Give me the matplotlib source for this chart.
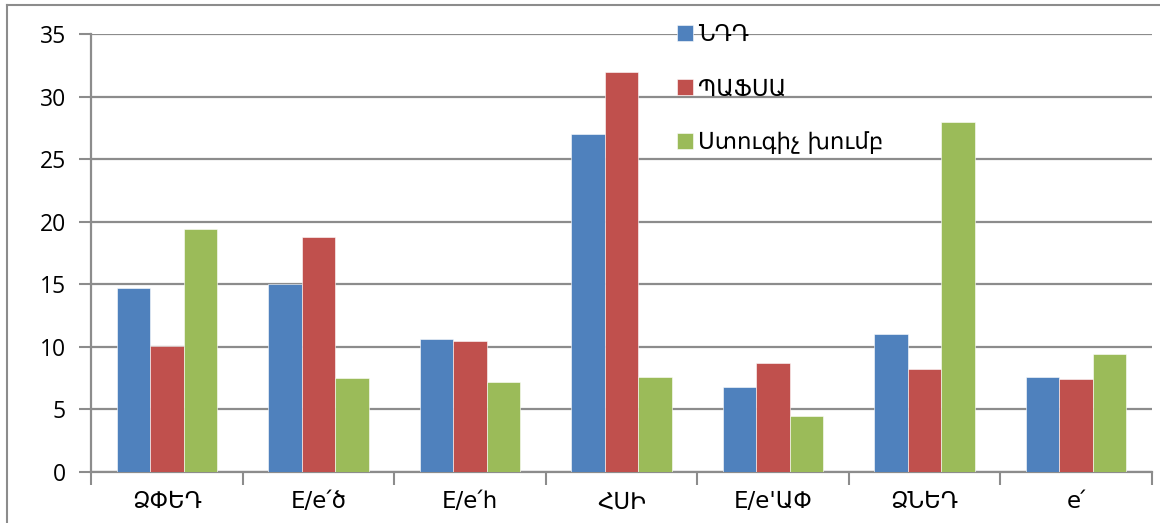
import numpy as np
import matplotlib.pyplot as plt
from matplotlib.lines import Line2D

# Chart data
categories = ["ՁՓԵԴ", "E/e՛ծ", "E/e՛հ", "ՀՍԻ", "E/e'ԱՓ", "ՁՆԵԴ", "e՛"]
series_names = ["ՆԴԴ", "ՊԱՖՍԱ", "Ստուգիչ խումբ"]
ndd = [14.7, 15.0, 10.6, 27.0, 6.8, 11.0, 7.6]
pafsa = [10.1, 18.8, 10.5, 32.0, 8.7, 8.2, 7.4]
control = [19.4, 7.5, 7.2, 7.6, 4.5, 28.0, 9.4]
yticks = [0, 5, 10, 15, 20, 25, 30, 35]

colors = ["#4F81BD", "#C0504D", "#9BBB59"]
grid_col = "#8C8C8C"

W, H = 1160, 523
fig = plt.figure(figsize=(W / 100, H / 100), dpi=100)
ax = fig.add_axes([91 / W, 1 - 472 / H, (1152 - 91) / W, (472 - 34) / H])

x = np.arange(len(categories))
bw = 0.221
for i, (vals, name) in enumerate(zip([ndd, pafsa, control], series_names)):
    ax.bar(x + (i - 1) * bw, vals, bw, color=colors[i], label=name,
           edgecolor="white", linewidth=0.4, zorder=3)

ax.set_xlim(-0.5, len(categories) - 0.5)
ax.set_ylim(0, 35)
ax.set_yticks(yticks)
ax.set_yticklabels([str(t) for t in yticks], fontsize=16.5, family="Open Sans")
ax.yaxis.grid(True, color=grid_col, linewidth=1.6, zorder=0)

# category labels, ticks on group boundaries
ax.set_xticks(x)
ax.set_xticklabels(categories, fontsize=16.5, family=["DejaVu Sans"])
ax.tick_params(axis="x", length=0, pad=13)
ax.set_xticks(np.arange(len(categories) + 1) - 0.5, minor=True)
ax.tick_params(axis="x", which="minor", length=9, color=grid_col, width=1.5)
ax.tick_params(axis="y", length=9, color=grid_col, width=1.5, pad=9)

for s in ["top", "right"]:
    ax.spines[s].set_visible(False)
for s in ["left", "bottom"]:
    ax.spines[s].set_color(grid_col)
    ax.spines[s].set_linewidth(1.6)

leg = ax.legend(loc="upper left", bbox_to_anchor=((668 - 91) / (1152 - 91), 1.045),
                frameon=False, prop={"family": "DejaVu Sans", "size": 16.5},
                handlelength=0.7, handleheight=0.7, handletextpad=0.2,
                labelspacing=1.35, borderaxespad=0)

# outer chart frame
fig.add_artist(Line2D([7 / W, 7 / W], [0, 1 - 5 / H], color=grid_col, lw=1.5))
fig.add_artist(Line2D([7 / W, 1], [1 - 5 / H, 1 - 5 / H], color=grid_col, lw=1.5))

fig.savefig("out.png", dpi=100)
